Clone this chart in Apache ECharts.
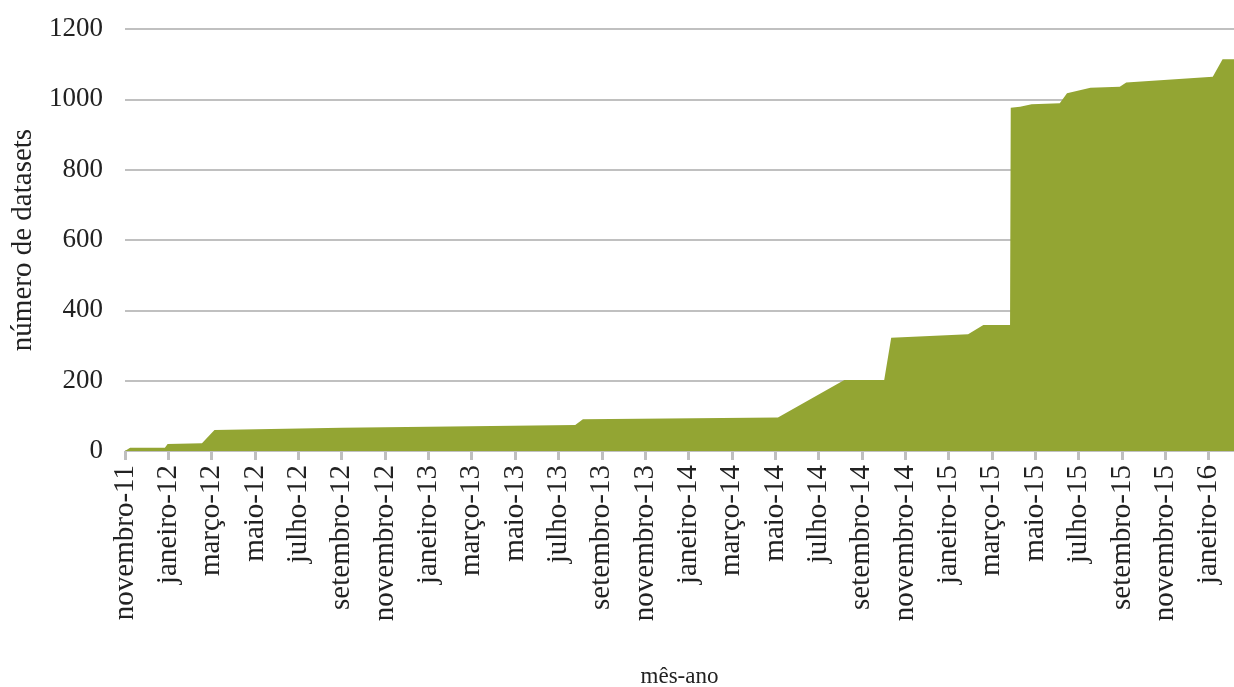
<!DOCTYPE html>
<html>
<head>
<meta charset="utf-8">
<script src="https://cdn.jsdelivr.net/npm/echarts@6/dist/echarts.min.js"></script>
<style>
  html, body { margin: 0; padding: 0; background: #ffffff; }
  #chart { width: 1234px; height: 687px; }
</style>
</head>
<body>
<div id="chart"></div>
<script>
// Cumulative number of datasets published, by date
const dates = [
  '2011-11-01', '2011-11-08', '2011-12-27', '2011-12-31', '2012-02-17',
  '2012-03-05', '2012-09-01', '2013-02-01', '2013-07-25', '2013-08-05',
  '2014-05-05', '2014-08-07', '2014-10-02', '2014-10-12', '2015-01-29',
  '2015-02-18', '2015-03-27', '2015-03-28', '2015-04-10', '2015-04-26',
  '2015-06-05', '2015-06-15', '2015-07-18', '2015-08-29', '2015-09-07',
  '2016-01-07', '2016-01-21', '2016-02-06'
];
const datasets = [
  0, 9, 9, 20, 22,
  60, 66, 70, 74, 90,
  95, 202, 202, 322, 332,
  358, 358, 976, 979, 986,
  989, 1017, 1033, 1036, 1048,
  1064, 1114, 1114
];

// Month labels shown every two months along the time axis
const tickLabels = [
  'novembro-11', 'janeiro-12', 'março-12', 'maio-12', 'julho-12', 'setembro-12',
  'novembro-12', 'janeiro-13', 'março-13', 'maio-13', 'julho-13', 'setembro-13',
  'novembro-13', 'janeiro-14', 'março-14', 'maio-14', 'julho-14', 'setembro-14',
  'novembro-14', 'janeiro-15', 'março-15', 'maio-15', 'julho-15', 'setembro-15',
  'novembro-15', 'janeiro-16'
];
const yTicks = [0, 200, 400, 600, 800, 1000, 1200];

// Months elapsed since November 2011 (fractional, by day of month)
function monthIndex(s) {
  const [y, m, d] = s.split('-').map(Number);
  const daysInMonth = new Date(y, m, 0).getDate();
  return (y - 2011) * 12 + (m - 1) - 10 + (d - 1) / daysInMonth;
}

const points = dates.map((d, i) => [monthIndex(d), datasets[i]]);
const tickPositions = tickLabels.map((_, i) => i * 2);
const xMax = points[points.length - 1][0];

const serif = '"Liberation Serif", "DejaVu Serif", serif';
const green = '#93a533';
const textColor = '#222222';

const chart = echarts.init(document.getElementById('chart'), null, { renderer: 'canvas' });
chart.setOption({
  backgroundColor: '#ffffff',
  animation: false,
  grid: {
    left: 125, right: 0, top: 29, bottom: 236,
    containLabel: false,
    outerBoundsMode: 'none'
  },
  xAxis: {
    type: 'value',
    min: 0,
    max: xMax,
    interval: 2,
    name: 'mês-ano',
    nameLocation: 'middle',
    nameGap: 214,
    nameTextStyle: { fontFamily: serif, fontSize: 23, color: textColor },
    axisLine: { show: false },
    axisTick: {
      show: true,
      length: 9,
      customValues: tickPositions,
      lineStyle: { color: '#bfbfbf', width: 3 }
    },
    axisLabel: {
      rotate: 90,
      margin: 14,
      customValues: tickPositions,
      fontFamily: serif,
      fontSize: 29,
      color: textColor,
      formatter: v => tickLabels[Math.round(v / 2)] || ''
    },
    splitLine: { show: false }
  },
  yAxis: {
    type: 'value',
    min: yTicks[0],
    max: yTicks[yTicks.length - 1],
    interval: 200,
    name: 'número de datasets',
    nameLocation: 'middle',
    nameGap: 77,
    nameTextStyle: { fontFamily: serif, fontSize: 29, color: textColor },
    axisLine: { show: false },
    axisTick: { show: false },
    axisLabel: {
      fontFamily: serif,
      fontSize: 27,
      color: textColor,
      margin: 22,
      formatter: v => String(v)
    },
    splitLine: { show: true, lineStyle: { color: '#c0c0c0', width: 2 } }
  },
  series: [{
    type: 'line',
    data: points,
    showSymbol: false,
    symbol: 'none',
    lineStyle: { width: 0, color: green },
    areaStyle: { color: green, opacity: 1 },
    itemStyle: { color: green }
  }]
});
</script>
</body>
</html>
